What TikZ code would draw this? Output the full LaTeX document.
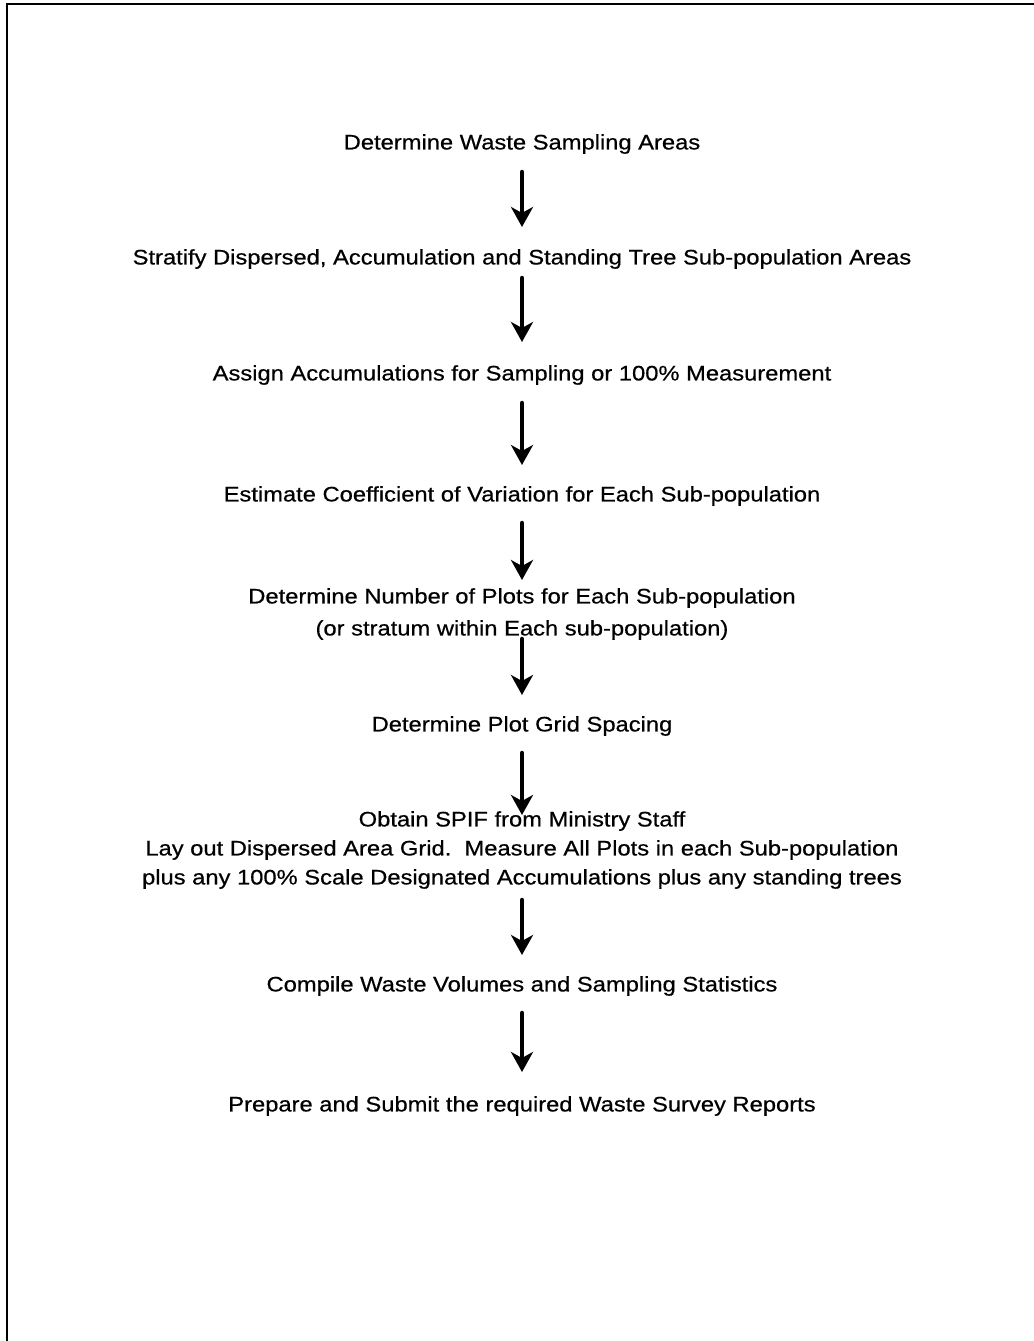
\documentclass[tikz,border=0pt]{standalone}
\usepackage{fontspec}
\setmainfont{Liberation Sans}[FakeStretch=1.13,FakeBold=0.6]
\usepackage{tikz}
\usetikzlibrary{arrows.meta}
\tikzset{steptext/.style={align=center,font=\fontsize{10.5}{14.5}\selectfont,inner sep=0pt}}
\tikzset{flowarrow/.style={line width=2.25pt,line cap=round,-{Stealth[length=10pt,width=11pt,inset=3pt]}}}

\begin{document}
\begin{tikzpicture}[x=0.5pt,y=-0.5pt]
\useasboundingbox (0,0) rectangle (1034,1341);
\draw[line width=1pt] (7,1341) -- (7,4) -- (1034,4);

\node[steptext] (s1) at (522,144) {Determine Waste Sampling Areas};
\node[steptext] (s2) at (522,259) {Stratify Dispersed, Accumulation and Standing Tree Sub-population Areas};
\node[steptext] (s3) at (522,375) {Assign Accumulations for Sampling or 100\% Measurement};
\node[steptext] (s4) at (522,496) {Estimate Coefficient of Variation for Each Sub-population};
\node[steptext] (s5) at (522,614) {Determine Number of Plots for Each Sub-population\\[1.5pt]
  (or stratum within Each sub-population)};
\node[steptext] (s6) at (522,726) {Determine Plot Grid Spacing};
\node[steptext] (s7) at (522,850) {Obtain SPIF from Ministry Staff\\
  Lay out Dispersed Area Grid.\ \ Measure All Plots in each Sub-population\\
  plus any 100\% Scale Designated Accumulations plus any standing trees};
\node[steptext] (s8) at (522,986) {Compile Waste Volumes and Sampling Statistics};
\node[steptext] (s9) at (522,1106) {Prepare and Submit the required Waste Survey Reports};

% arrows: from/to/shorten start/shorten end
\foreach \a/\b/\p/\q in {s1/s2/14/16, s2/s3/9.5/16.5, s3/s4/14/15.5,
    s4/s5/13.5/17, s5/s6/12.5/15.5, s6/s7/13.5/17.5, s7/s8/25/15.5, s8/s9/13.5/17}
{
\draw[flowarrow,shorten <=\p pt,shorten >=\q pt] (\a.center) -- (\b.center);
}

\end{tikzpicture}
\end{document}
